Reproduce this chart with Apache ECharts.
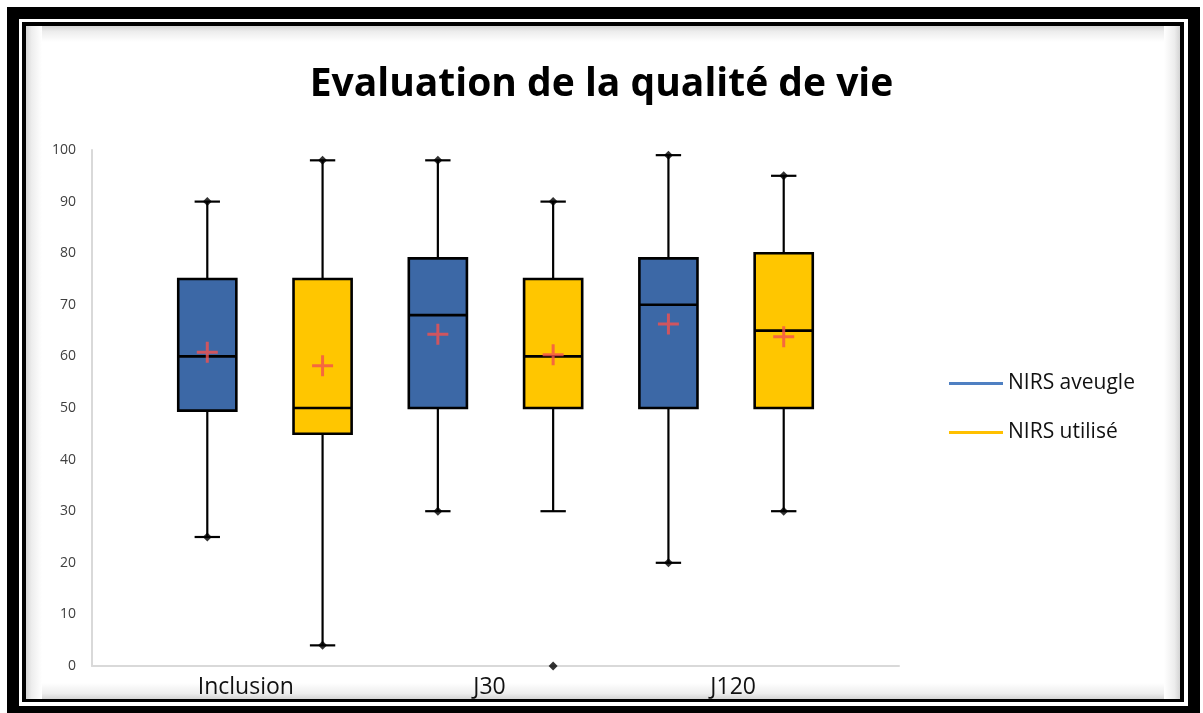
<!DOCTYPE html>
<html>
<head>
<meta charset="utf-8">
<script src="https://cdn.jsdelivr.net/npm/echarts@6/dist/echarts.min.js"></script>
<style>
  html, body { margin: 0; padding: 0; background: #fff; }
  #chart { width: 1203px; height: 713px; }
</style>
</head>
<body>
<div id="chart"></div>
<script>
// Data
const groups = ["Inclusion", "J30", "J120"];
const seriesNames = ["NIRS aveugle", "NIRS utilisé"];

const aveugleLow = [25, 30, 20];
const aveugleQ1 = [49.5, 50, 50];
const aveugleMedian = [60, 68, 70];
const aveugleQ3 = [75, 79, 79];
const aveugleHigh = [90, 98, 99];
const aveugleMean = [60.8, 64.3, 66.3];
const aveugleMinPoint = [25, 30, 20];
const aveugleMaxPoint = [90, 98, 99];

const utiliseLow = [4, 30, 30];
const utiliseQ1 = [45, 50, 50];
const utiliseMedian = [50, 60, 65];
const utiliseQ3 = [75, 75, 80];
const utiliseHigh = [98, 90, 95];
const utiliseMean = [58.2, 60.3, 63.8];
const utiliseMinPoint = [4, 0, 30];
const utiliseMaxPoint = [98, 90, 95];

const yTicks = [0, 100, 10]; // min, max, interval

const boxColors = ["#3c68a6", "#ffc600"];
const legendColors = ["#4f80c2", "#ffc000"];

// slot on the x axis: each group holds two boxes
const slot = (g, s) => g * 2 + s + 1;

function boxRows(s, low, q1, med, q3, high) {
  return groups.map((_, g) => [slot(g, s), low[g], q1[g], med[g], q3[g], high[g]]);
}
function pointRows(s, values) {
  return values.map((v, g) => [slot(g, s), v]);
}

function makeRender(fill) {
  return function (params, api) {
    const x = api.value(0);
    const unit = api.size([1, 0])[0];
    const half = unit * 0.252;
    const cap = unit * 0.11;
    const pLow = api.coord([x, api.value(1)]);
    const pQ1 = api.coord([x, api.value(2)]);
    const pMed = api.coord([x, api.value(3)]);
    const pQ3 = api.coord([x, api.value(4)]);
    const pHigh = api.coord([x, api.value(5)]);
    const cx = pLow[0];
    const line = { stroke: "#000", lineWidth: 2.2 };
    return {
      type: "group",
      children: [
        { type: "line", shape: { x1: cx, y1: pLow[1], x2: cx, y2: pQ1[1] }, style: line },
        { type: "line", shape: { x1: cx, y1: pQ3[1], x2: cx, y2: pHigh[1] }, style: line },
        { type: "line", shape: { x1: cx - cap, y1: pLow[1], x2: cx + cap, y2: pLow[1] }, style: line },
        { type: "line", shape: { x1: cx - cap, y1: pHigh[1], x2: cx + cap, y2: pHigh[1] }, style: line },
        {
          type: "rect",
          shape: { x: cx - half, y: pQ3[1], width: half * 2, height: pQ1[1] - pQ3[1] },
          style: { fill: fill, stroke: "#000", lineWidth: 2.6 }
        },
        { type: "line", shape: { x1: cx - half, y1: pMed[1], x2: cx + half, y2: pMed[1] }, style: { stroke: "#000", lineWidth: 2.6 } }
      ]
    };
  };
}

const plusPath = "path://M9,0h3v9h9v3h-9v9h-3v-9h-9v-3h9z";

// soft inner shadow of the frame
function fade(x0, y0, x1, y1) {
  return new echarts.graphic.LinearGradient(x0, y0, x1, y1, [
    { offset: 0, color: "#d4d4d4" },
    { offset: 0.35, color: "#ededed" },
    { offset: 1, color: "#ffffff" }
  ]);
}

const chart = echarts.init(document.getElementById("chart"));

const option = {
  backgroundColor: "#fff",
  animation: false,
  graphic: [
    { type: "rect", z: -10, shape: { x: 7, y: 7, width: 1193, height: 706 }, style: { fill: "#000" } },
    { type: "rect", z: -9, shape: { x: 19, y: 19, width: 1169, height: 687 }, style: { fill: "#fff" } },
    { type: "rect", z: -8, shape: { x: 22, y: 22, width: 1162, height: 680 }, style: { fill: "#000" } },
    { type: "rect", z: -7, shape: { x: 26, y: 26, width: 1154, height: 673 }, style: { fill: "#fff" } },
    { type: "rect", z: -6, shape: { x: 26, y: 26, width: 1154, height: 16 }, style: { fill: fade(0, 0, 0, 1) } },
    { type: "rect", z: -6, shape: { x: 26, y: 683, width: 1154, height: 16 }, style: { fill: fade(0, 1, 0, 0) } },
    { type: "rect", z: -5, shape: { x: 26, y: 26, width: 16, height: 673 }, style: { fill: fade(0, 0, 1, 0) } },
    { type: "rect", z: -5, shape: { x: 1164, y: 26, width: 16, height: 673 }, style: { fill: fade(1, 0, 0, 0) } }
  ],
  title: {
    text: "Evaluation de la qualité de vie",
    left: "center",
    top: 60,
    textStyle: { fontFamily: "Open Sans", fontWeight: "bold", fontSize: 39, color: "#000" }
  },
  legend: {
    orient: "vertical",
    left: 944,
    top: 368,
    itemWidth: 54,
    itemHeight: 3,
    itemGap: 28,
    icon: "rect",
    textStyle: { fontFamily: "Open Sans", fontSize: 21, color: "#111" },
    data: seriesNames.map((n, i) => ({ name: n, itemStyle: { color: legendColors[i] } }))
  },
  grid: [
    { left: 92, right: 304, top: 150, bottom: 47 },
    { left: 124, right: 348, top: 150, bottom: 47 }
  ],
  xAxis: [
    {
      type: "value", gridIndex: 0, min: 0, max: 7,
      axisLine: { show: true, lineStyle: { color: "#d9d9d9", width: 2 } },
      axisTick: { show: false }, axisLabel: { show: false }, splitLine: { show: false }
    },
    {
      type: "category", gridIndex: 1, data: groups,
      axisLine: { show: false }, axisTick: { show: false }, splitLine: { show: false },
      axisLabel: { margin: 10, fontFamily: "Open Sans", fontSize: 23, color: "#111" }
    }
  ],
  yAxis: [
    {
      type: "value", gridIndex: 0, min: yTicks[0], max: yTicks[1], interval: yTicks[2],
      axisLine: { show: true, lineStyle: { color: "#d9d9d9", width: 2 } },
      axisTick: { show: false }, splitLine: { show: false },
      axisLabel: { margin: 16, fontFamily: "Open Sans", fontSize: 14, color: "#404040" }
    },
    { type: "value", gridIndex: 1, min: 0, max: 100, show: false }
  ],
  series: [
    {
      name: seriesNames[0], type: "custom", xAxisIndex: 0, yAxisIndex: 0,
      itemStyle: { color: legendColors[0] },
      encode: { x: 0, y: [1, 2, 3, 4, 5] },
      renderItem: makeRender(boxColors[0]),
      data: boxRows(0, aveugleLow, aveugleQ1, aveugleMedian, aveugleQ3, aveugleHigh)
    },
    {
      name: seriesNames[1], type: "custom", xAxisIndex: 0, yAxisIndex: 0,
      itemStyle: { color: legendColors[1] },
      encode: { x: 0, y: [1, 2, 3, 4, 5] },
      renderItem: makeRender(boxColors[1]),
      data: boxRows(1, utiliseLow, utiliseQ1, utiliseMedian, utiliseQ3, utiliseHigh)
    },
    {
      name: "points", type: "scatter", symbol: "diamond", symbolSize: 9,
      itemStyle: { color: "#000" },
      data: [].concat(
        pointRows(0, aveugleMinPoint), pointRows(0, aveugleMaxPoint),
        pointRows(1, utiliseMinPoint), pointRows(1, utiliseMaxPoint)
      )
    },
    {
      name: "moyenne", type: "scatter", symbol: plusPath, symbolSize: 21,
      itemStyle: { color: "#f4504e" },
      data: [].concat(pointRows(0, aveugleMean), pointRows(1, utiliseMean))
    }
  ]
};

chart.setOption(option);
</script>
</body>
</html>
